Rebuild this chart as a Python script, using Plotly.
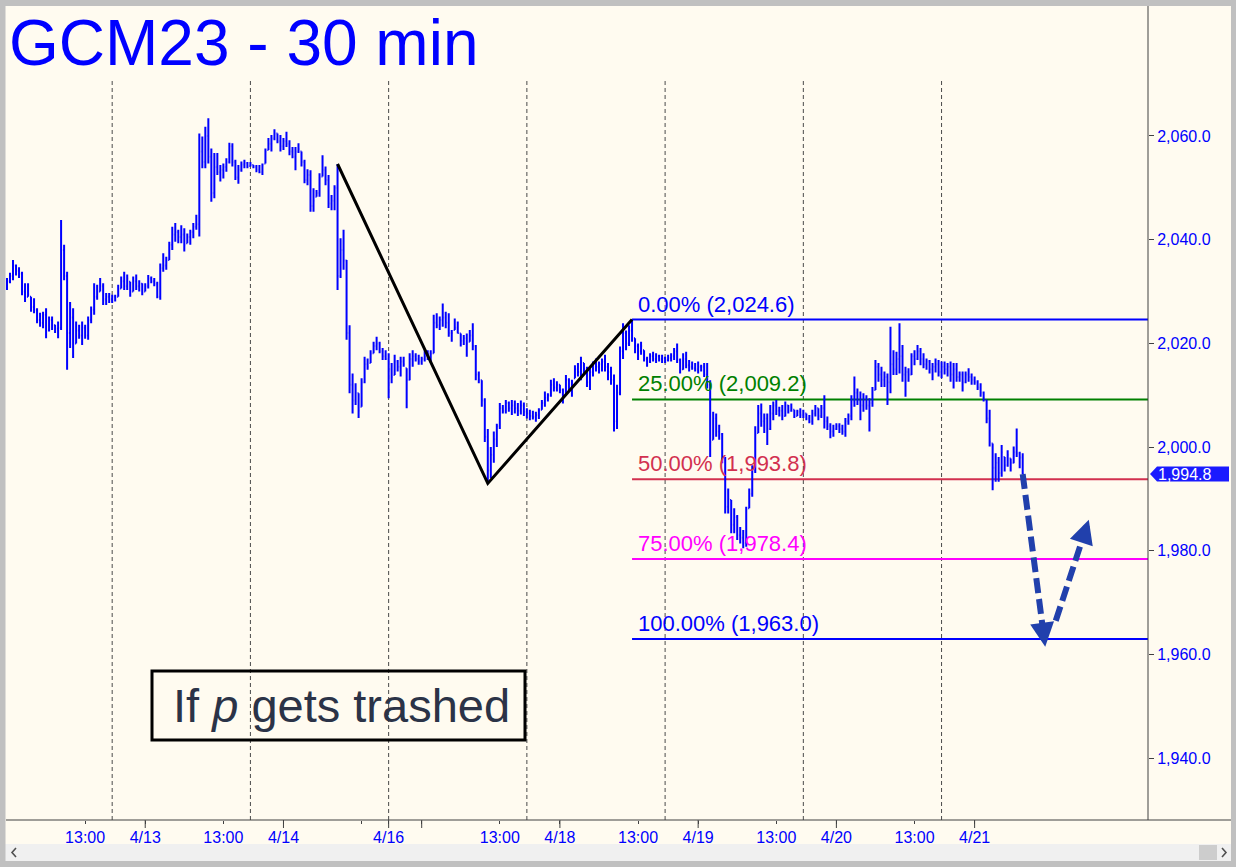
import math
import plotly.graph_objects as go

# ---------------- data (30-min bars, index = bar number) ----------------
highs = [
    2032.6, 2033.6, 2036.1, 2035.2, 2034.7, 2033.8, 2031.6, 2031.6, 2029.0, 2028.7,
    2026.8, 2025.9, 2026.1, 2026.8, 2025.2, 2025.2, 2023.6, 2024.2, 2043.8, 2039.0,
    2033.8, 2028.0, 2026.8, 2024.2, 2023.6, 2024.2, 2023.6, 2025.2, 2027.1, 2031.6,
    2031.3, 2032.6, 2031.6, 2029.7, 2029.7, 2029.4, 2029.4, 2031.3, 2032.9, 2033.8,
    2033.3, 2031.9, 2032.9, 2033.3, 2032.2, 2031.6, 2031.6, 2033.2, 2032.9, 2032.6,
    2031.9, 2035.4, 2037.4, 2036.7, 2039.6, 2042.5, 2043.2, 2041.9, 2042.8, 2042.2,
    2041.2, 2041.9, 2043.2, 2044.8, 2060.5, 2059.9, 2061.8, 2063.4, 2057.6, 2056.7,
    2056.7, 2054.4, 2054.7, 2055.7, 2058.7, 2058.6, 2055.4, 2054.4, 2055.1, 2055.4,
    2055.0, 2055.0, 2054.4, 2054.4, 2054.4, 2054.7, 2057.6, 2059.6, 2060.2, 2061.3,
    2060.5, 2060.2, 2059.6, 2060.8, 2059.2, 2057.9, 2057.9, 2058.6, 2057.0, 2055.4,
    2053.6, 2053.4, 2049.9, 2049.6, 2052.8, 2056.3, 2054.1, 2052.5, 2048.6, 2050.5,
    2054.6, 2040.3, 2041.9, 2036.1, 2023.5, 2014.2, 2012.3, 2010.4, 2013.3, 2017.4,
    2017.1, 2018.7, 2020.3, 2021.3, 2020.3, 2019.1, 2018.7, 2018.1, 2016.2, 2017.8,
    2016.8, 2017.4, 2017.4, 2015.2, 2018.1, 2018.7, 2018.1, 2017.8, 2017.4, 2018.7,
    2018.7, 2018.7, 2025.5, 2025.8, 2025.2, 2027.7, 2026.1, 2025.8, 2022.6, 2024.8,
    2024.2, 2021.9, 2021.6, 2021.9, 2022.6, 2023.9, 2019.7, 2014.6, 2012.9, 2009.4,
    2003.5, 2000.0, 2003.0, 2004.5, 2008.5, 2008.1, 2009.1, 2008.8, 2009.1, 2009.0,
    2008.5, 2009.0, 2008.6, 2007.5, 2007.2, 2007.0, 2006.8, 2007.5, 2009.1, 2010.7,
    2010.4, 2013.0, 2013.3, 2012.7, 2012.0, 2011.3, 2013.9, 2013.3, 2013.0, 2015.8,
    2016.2, 2017.4, 2016.2, 2015.5, 2015.2, 2016.5, 2017.1, 2016.5, 2017.1, 2017.8,
    2016.2, 2015.5, 2014.0, 2012.0, 2019.4, 2023.9, 2022.5, 2023.5, 2024.6, 2021.0,
    2020.0, 2020.3, 2018.7, 2017.4, 2018.1, 2018.4, 2018.1, 2017.8, 2017.8, 2017.4,
    2017.8, 2018.1, 2019.1, 2020.0, 2017.1, 2018.1, 2018.4, 2016.8, 2016.5, 2016.2,
    2016.5, 2015.9, 2016.2, 2016.2, 2012.9, 2006.8, 2006.5, 2004.3, 2002.7, 1998.1,
    1992.0, 1989.8, 1988.2, 1986.9, 1984.6, 1984.0, 1988.5, 1992.0, 1996.5, 2004.0,
    2008.1, 2008.4, 2006.5, 2006.5, 2008.1, 2008.8, 2009.1, 2007.8, 2008.1, 2008.8,
    2008.1, 2008.4, 2007.2, 2007.2, 2007.5, 2007.2, 2006.5, 2006.2, 2007.2, 2008.1,
    2007.5, 2008.1, 2010.0, 2005.9, 2004.6, 2004.3, 2004.6, 2004.6, 2004.3, 2005.6,
    2006.5, 2010.0, 2013.6, 2011.3, 2010.7, 2010.4, 2010.0, 2009.4, 2011.6, 2016.8,
    2016.2, 2015.5, 2014.6, 2014.2, 2023.2, 2018.7, 2018.4, 2023.9, 2019.7, 2015.5,
    2015.2, 2018.1, 2018.7, 2019.7, 2019.1, 2018.1, 2017.1, 2016.8, 2016.2, 2017.1,
    2016.8, 2016.5, 2016.5, 2016.2, 2016.5, 2016.2, 2016.2, 2014.6, 2014.6, 2014.6,
    2015.2, 2014.2, 2013.6, 2012.9, 2012.3, 2010.7, 2009.1, 2007.2, 2000.7, 1998.8,
    1998.1, 2000.4, 1998.1, 1999.4, 1997.8, 2000.1, 2003.6, 1999.1, 1998.8,
]
lows = [
    2030.3, 2031.6, 2032.2, 2033.1, 2032.6, 2029.3, 2028.0, 2029.0, 2026.1, 2025.8,
    2023.9, 2023.2, 2022.9, 2021.0, 2022.3, 2022.6, 2022.0, 2021.0, 2022.6, 2032.2,
    2014.9, 2019.1, 2017.2, 2020.0, 2020.9, 2019.7, 2020.9, 2020.7, 2023.9, 2025.5,
    2028.4, 2030.0, 2027.4, 2027.4, 2027.8, 2027.8, 2028.1, 2029.0, 2030.6, 2030.3,
    2030.3, 2029.0, 2030.0, 2030.3, 2030.0, 2029.3, 2030.0, 2030.6, 2031.6, 2031.0,
    2028.7, 2028.4, 2033.8, 2034.2, 2036.1, 2038.0, 2039.6, 2039.3, 2039.3, 2037.7,
    2039.3, 2039.0, 2040.3, 2041.9, 2040.6, 2053.8, 2053.8, 2054.7, 2047.3, 2048.0,
    2052.5, 2051.2, 2051.8, 2053.1, 2054.7, 2054.1, 2051.5, 2050.8, 2053.1, 2053.8,
    2053.8, 2054.1, 2053.8, 2053.0, 2052.8, 2052.5, 2054.7, 2057.3, 2057.0, 2059.2,
    2058.6, 2057.0, 2057.3, 2057.9, 2056.3, 2055.7, 2053.4, 2056.7, 2054.1, 2050.9,
    2050.5, 2045.4, 2045.4, 2048.3, 2048.3, 2052.2, 2050.5, 2046.1, 2045.7, 2045.7,
    2030.3, 2032.6, 2034.2, 2020.7, 2010.4, 2006.5, 2008.1, 2005.6, 2007.8, 2012.3,
    2014.9, 2016.2, 2018.1, 2018.7, 2018.1, 2016.8, 2016.8, 2009.4, 2012.3, 2013.9,
    2014.6, 2013.6, 2015.5, 2007.5, 2012.9, 2015.5, 2016.5, 2015.9, 2015.9, 2016.5,
    2016.8, 2016.2, 2018.1, 2022.9, 2022.6, 2023.2, 2022.9, 2021.3, 2020.3, 2022.6,
    2021.9, 2019.4, 2019.7, 2017.4, 2020.3, 2018.7, 2012.9, 2012.3, 2007.8, 2001.0,
    1993.0, 1994.0, 1997.0, 2000.0, 2003.5, 2006.5, 2006.5, 2006.8, 2006.2, 2006.5,
    2006.0, 2006.3, 2006.0, 2005.5, 2005.2, 2005.3, 2004.9, 2005.4, 2007.2, 2007.8,
    2008.8, 2009.7, 2010.7, 2010.7, 2010.4, 2008.4, 2010.0, 2010.7, 2009.7, 2013.3,
    2013.6, 2012.9, 2014.0, 2011.6, 2011.0, 2013.6, 2014.6, 2014.2, 2014.6, 2014.6,
    2012.9, 2012.0, 2003.0, 2003.5, 2010.0, 2017.0, 2018.7, 2019.5, 2020.3, 2018.1,
    2016.8, 2017.8, 2016.5, 2015.5, 2016.2, 2016.5, 2016.2, 2016.5, 2016.2, 2016.2,
    2016.5, 2016.5, 2016.8, 2016.2, 2014.2, 2014.9, 2015.2, 2014.6, 2014.9, 2014.6,
    2014.2, 2014.6, 2013.5, 2011.3, 1998.1, 2001.4, 2002.0, 2001.4, 1996.9, 1987.2,
    1987.2, 1983.4, 1983.4, 1982.1, 1981.4, 1980.5, 1980.8, 1988.2, 1990.4, 1995.0,
    2002.7, 2003.9, 2002.7, 2000.4, 2003.3, 2005.2, 2006.2, 2005.9, 2005.2, 2005.9,
    2006.5, 2006.8, 2005.6, 2006.0, 2005.6, 2005.6, 2005.2, 2004.6, 2004.3, 2005.9,
    2005.2, 2005.6, 2003.6, 2003.3, 2001.7, 2002.0, 2003.3, 2002.7, 2002.4, 2002.0,
    2004.3, 2005.2, 2007.8, 2008.1, 2005.2, 2006.8, 2007.2, 2003.0, 2007.8, 2011.0,
    2012.6, 2011.6, 2011.6, 2008.1, 2010.4, 2013.9, 2013.9, 2014.2, 2012.6, 2009.7,
    2012.6, 2013.9, 2015.8, 2016.8, 2015.8, 2015.2, 2014.9, 2014.2, 2012.9, 2014.4,
    2013.6, 2013.3, 2014.0, 2013.6, 2012.6, 2011.3, 2012.6, 2012.6, 2010.7, 2012.3,
    2012.6, 2012.0, 2012.0, 2011.0, 2009.7, 2008.8, 2004.6, 2000.1, 1991.7, 1993.3,
    1993.3, 1994.3, 1995.3, 1996.2, 1995.3, 1996.9, 1998.1, 1995.9, 1994.8,
]
closes = [
    2032.0, 2033.0, 2035.0, 2034.0, 2033.5, 2030.0, 2029.0, 2029.5, 2027.0, 2026.5,
    2024.5, 2024.0, 2025.5, 2022.5, 2024.5, 2023.5, 2022.8, 2023.0, 2038.0, 2033.0,
    2022.0, 2025.0, 2020.0, 2022.5, 2021.5, 2023.0, 2021.5, 2024.5, 2026.5, 2029.0,
    2030.0, 2031.0, 2028.5, 2029.0, 2028.5, 2029.0, 2029.0, 2030.5, 2032.0, 2031.0,
    2032.5, 2030.0, 2032.0, 2031.0, 2031.5, 2029.8, 2031.0, 2032.5, 2032.0, 2031.5,
    2029.0, 2034.5, 2035.0, 2036.0, 2039.0, 2041.0, 2041.5, 2040.5, 2041.0, 2039.0,
    2040.5, 2041.5, 2042.5, 2043.0, 2057.0, 2055.0, 2060.0, 2056.0, 2049.0, 2054.0,
    2053.0, 2053.5, 2054.0, 2055.0, 2058.0, 2055.0, 2052.0, 2053.5, 2054.5, 2054.8,
    2054.2, 2054.5, 2054.0, 2053.5, 2053.0, 2054.5, 2057.0, 2058.5, 2059.5, 2060.5,
    2059.0, 2058.0, 2059.0, 2058.5, 2057.0, 2056.0, 2057.0, 2057.5, 2055.0, 2051.5,
    2052.5, 2046.5, 2047.5, 2049.0, 2052.0, 2053.5, 2051.5, 2047.0, 2047.5, 2050.0,
    2033.0, 2038.0, 2036.0, 2022.0, 2012.0, 2009.0, 2010.5, 2007.0, 2012.5, 2016.0,
    2015.5, 2018.0, 2019.5, 2020.0, 2018.5, 2017.5, 2017.0, 2015.0, 2013.5, 2016.5,
    2015.5, 2016.5, 2016.0, 2013.0, 2017.0, 2017.5, 2017.0, 2016.5, 2017.0, 2017.5,
    2018.0, 2018.0, 2024.0, 2023.5, 2024.5, 2025.0, 2024.0, 2022.0, 2022.0, 2023.0,
    2022.0, 2020.5, 2021.0, 2020.0, 2021.5, 2019.5, 2014.0, 2013.0, 2009.0, 2002.0,
    1995.5, 1998.5, 2001.5, 2004.0, 2007.5, 2007.0, 2008.5, 2007.5, 2008.0, 2007.5,
    2007.0, 2008.0, 2006.8, 2006.5, 2006.0, 2005.8, 2006.2, 2007.0, 2008.5, 2009.5,
    2010.0, 2012.0, 2011.5, 2012.0, 2011.0, 2010.0, 2013.0, 2011.5, 2012.5, 2015.0,
    2014.5, 2016.5, 2015.0, 2012.5, 2014.5, 2016.0, 2015.5, 2016.0, 2016.5, 2015.5,
    2014.5, 2013.0, 2005.0, 2010.5, 2018.5, 2022.0, 2020.0, 2022.5, 2021.0, 2019.5,
    2018.5, 2019.5, 2017.0, 2016.5, 2017.5, 2017.0, 2017.5, 2017.0, 2017.2, 2016.8,
    2017.2, 2017.5, 2018.5, 2016.8, 2015.0, 2017.0, 2015.8, 2015.5, 2015.2, 2015.0,
    2015.5, 2015.5, 2014.0, 2012.0, 2001.0, 2005.5, 2003.0, 2002.5, 1998.0, 1988.5,
    1990.0, 1985.0, 1986.5, 1983.0, 1982.5, 1981.5, 1988.0, 1991.0, 1995.5, 2002.5,
    2006.5, 2005.0, 2005.5, 2003.5, 2006.5, 2008.0, 2007.0, 2007.0, 2006.0, 2008.0,
    2007.0, 2007.5, 2006.0, 2006.8, 2006.2, 2006.5, 2005.5, 2005.0, 2006.5, 2007.5,
    2006.0, 2007.5, 2005.0, 2004.0, 2003.0, 2003.5, 2004.0, 2003.5, 2003.0, 2005.0,
    2006.0, 2009.0, 2010.5, 2009.0, 2008.0, 2009.5, 2008.0, 2008.5, 2011.0, 2015.5,
    2014.0, 2013.0, 2013.5, 2012.5, 2016.0, 2015.0, 2017.0, 2017.5, 2014.0, 2014.5,
    2014.0, 2017.5, 2017.0, 2018.5, 2017.0, 2016.0, 2016.5, 2015.0, 2015.5, 2016.0,
    2014.5, 2015.5, 2015.0, 2015.5, 2014.0, 2015.0, 2013.5, 2014.0, 2012.5, 2014.0,
    2013.5, 2013.0, 2012.5, 2011.5, 2010.5, 2009.5, 2005.5, 2001.0, 1996.0, 1997.0,
    1995.0, 1999.0, 1996.5, 1998.5, 1997.0, 1999.0, 1998.8, 1998.0, 1994.8,
]
first_open = 2031.0

# x-axis labels (bar index -> label); "" = unlabeled tick
tick_idx = [26, 46, 72, 92, 118, 127, 138, 164, 184, 210, 230, 256, 276, 302, 322]
tick_text = ["13:00", "4/13", "13:00", "4/14", "", "4/16", "", "13:00", "4/18",
             "13:00", "4/19", "13:00", "4/20", "13:00", "4/21"]
long_tick_idx = [46, 92, 127, 138, 184, 230, 276, 322]
session_sep_idx = [35, 81, 127, 173, 219, 265, 311]

y_tick_vals = [1940, 1960, 1980, 2000, 2020, 2040, 2060]

# ABC swing pivots (bar index) and fib percentages
pivot_idx = [110, 160, 208]
fib_pcts = [0.0, 25.0, 50.0, 75.0, 100.0]
fib_colors = ["#0000ff", "#008000", "#d2304f", "#ff00ff", "#0000ff"]

# projected path (dashed arrows)
proj1_idx, proj1_px = [338, 345.5], [1994.8, 1961.5]
proj2_idx, proj2_px = [349, 360], [1966.5, 1986.0]

last_price = closes[-1]

# ---------------- layout geometry ----------------
W, H = 1236, 867
LM, RM, TM, BM = 6, 88, 6, 47
PW, PH = W - LM - RM, H - TM - BM
XMIN, XMAX = -0.333, 379.7
YMIN, YMAX = 1928.08, 2085.07
SX = PW / (XMAX - XMIN)
SY = PH / (YMAX - YMIN)
BG = "#fffbf0"
BLUE = "#0000ff"
FONT = "Liberation Sans, Arial, sans-serif"


def pxx(p):
    return (p - LM) / PW


def pxy(p):
    return (H - BM - p) / PH


n = len(closes)
idx = list(range(n))
opens = [first_open] + [min(max(closes[i - 1], lows[i]), highs[i]) for i in range(1, n)]

fig = go.Figure()

fig.add_trace(go.Ohlc(
    x=idx, open=opens, high=highs, low=lows, close=closes,
    increasing=dict(line=dict(color=BLUE, width=2)),
    decreasing=dict(line=dict(color=BLUE, width=2)),
    tickwidth=0.35, hoverinfo="skip", showlegend=False,
))

# ABC zigzag
A = highs[pivot_idx[0]]
B = lows[pivot_idx[1]]
C = highs[pivot_idx[2]]
fig.add_trace(go.Scatter(
    x=pivot_idx, y=[A, B, C], mode="lines",
    line=dict(color="black", width=3), hoverinfo="skip", showlegend=False,
))

shapes = []
annotations = []

# session separators
for s in session_sep_idx:
    shapes.append(dict(type="line", xref="x", yref="paper", x0=s, x1=s,
                       y0=0, y1=pxy(78), layer="below",
                       line=dict(color="#4a4a4a", width=1, dash="4px,3px")))

# fib levels
rng = A - B
for pct, col in zip(fib_pcts, fib_colors):
    lvl = C - pct / 100.0 * rng
    shapes.append(dict(type="line", xref="x", yref="y", x0=pivot_idx[2], x1=XMAX,
                       y0=lvl, y1=lvl, layer="below", line=dict(color=col, width=2)))
    annotations.append(dict(x=pivot_idx[2] + 1.3, y=lvl, xref="x", yref="y",
                            xanchor="left", yanchor="bottom", yshift=1,
                            text=f"{pct:.2f}% ({lvl:,.1f})", showarrow=False,
                            font=dict(family=FONT, size=22, color=col)))

# projected path (dashed)
ARW = "rgb(33,64,172)"
for xs, ys in [(proj1_idx, proj1_px), (proj2_idx, proj2_px)]:
    dxp = (xs[1] - xs[0]) * SX
    dyp = -(ys[1] - ys[0]) * SY
    L = math.hypot(dxp, dyp)
    ux, uy = dxp / L, dyp / L
    cut = 16 / L
    fig.add_trace(go.Scatter(
        x=[xs[0], xs[1] - (xs[1] - xs[0]) * cut],
        y=[ys[0], ys[1] - (ys[1] - ys[0]) * cut],
        mode="lines", line=dict(color=ARW, width=6, dash="15px,6px"),
        hoverinfo="skip", showlegend=False))
    annotations.append(dict(x=xs[1], y=ys[1], xref="x", yref="y",
                            ax=-ux * 22, ay=-uy * 22, text="", showarrow=True,
                            arrowhead=2, arrowsize=0.8, arrowwidth=6,
                            arrowcolor=ARW, standoff=0))

# text box
shapes.append(dict(type="rect", xref="paper", yref="paper",
                   x0=pxx(152), x1=pxx(525), y0=pxy(740), y1=pxy(671),
                   line=dict(color="black", width=3), fillcolor="rgba(0,0,0,0)"))
annotations.append(dict(x=pxx(341.5), y=pxy(705), xref="paper", yref="paper",
                        xanchor="center", yanchor="middle", showarrow=False,
                        text="If <i>p</i> gets trashed",
                        font=dict(family=FONT, size=47, color="#2b3347")))

# title
annotations.append(dict(x=pxx(7), y=pxy(5), xref="paper", yref="paper",
                        xanchor="left", yanchor="top", showarrow=False,
                        text="GCM23 - 30 min",
                        font=dict(family=FONT, size=64, color=BLUE)))

# axis lines
shapes.append(dict(type="line", xref="paper", yref="paper", x0=0, x1=pxx(1231),
                   y0=0, y1=0, line=dict(color="#404040", width=1)))
shapes.append(dict(type="line", xref="paper", yref="paper", x0=1, x1=1,
                   y0=0, y1=1, line=dict(color="#404040", width=1)))
for t in long_tick_idx:
    shapes.append(dict(type="line", xref="x", yref="paper", x0=t, x1=t,
                       y0=0, y1=pxy(828), line=dict(color="#404040", width=1)))

# last price marker
hp = 7.5 / SY
shapes.append(dict(type="path", xref="paper", yref="y",
                   path=(f"M {pxx(1150)},{last_price} L {pxx(1157)},{last_price + hp} "
                         f"L {pxx(1229)},{last_price + hp} L {pxx(1229)},{last_price - hp} "
                         f"L {pxx(1157)},{last_price - hp} Z"),
                   fillcolor="#1a1aff", line=dict(width=0)))
annotations.append(dict(x=pxx(1156), y=last_price, xref="paper", yref="y",
                        xanchor="left", yanchor="middle", showarrow=False,
                        text=f"{last_price:,.1f}",
                        font=dict(family=FONT, size=16, color="white")))

# window chrome: scrollbar and gray frame
shapes.append(dict(type="rect", xref="paper", yref="paper", x0=pxx(5), x1=pxx(1231),
                   y0=pxy(861), y1=pxy(844), fillcolor="#f0f0f0", line=dict(width=0)))
shapes.append(dict(type="rect", xref="paper", yref="paper", x0=pxx(1199), x1=pxx(1217),
                   y0=pxy(860), y1=pxy(845), fillcolor="#cdcdcd", line=dict(width=0)))
# scroll chevrons
shapes.append(dict(type="path", xref="paper", yref="paper",
                   path=(f"M {pxx(16)},{pxy(848)} L {pxx(12)},{pxy(852.5)} "
                         f"L {pxx(16)},{pxy(857)}"),
                   line=dict(color="#505050", width=1.6)))
shapes.append(dict(type="path", xref="paper", yref="paper",
                   path=(f"M {pxx(1222)},{pxy(848)} L {pxx(1226)},{pxy(852.5)} "
                         f"L {pxx(1222)},{pxy(857)}"),
                   line=dict(color="#505050", width=1.6)))
GRAY = "#c0c0c0"
for (x0, x1, y0, y1) in [(0, 1236, 0, 6), (0, 5.5, 0, 867), (1231, 1236, 0, 867),
                         (0, 1236, 861, 867)]:
    shapes.append(dict(type="rect", xref="paper", yref="paper", x0=pxx(x0), x1=pxx(x1),
                       y0=pxy(y1), y1=pxy(y0), fillcolor=GRAY, line=dict(width=0)))

fig.update_layout(
    width=W, height=H,
    margin=dict(l=LM, r=RM, t=TM, b=BM, pad=0),
    paper_bgcolor=BG, plot_bgcolor=BG,
    showlegend=False, hovermode=False,
    shapes=shapes, annotations=annotations,
    xaxis=dict(range=[XMIN, XMAX], showgrid=False, zeroline=False, showline=False,
               rangeslider=dict(visible=False),
               tickmode="array", tickvals=tick_idx, ticktext=tick_text,
               ticks="outside", ticklen=3, tickcolor="#404040",
               tickfont=dict(family=FONT, size=16, color=BLUE)),
    yaxis=dict(range=[YMIN, YMAX], side="right", showgrid=False, zeroline=False,
               showline=False, tickmode="array", tickvals=y_tick_vals,
               ticktext=[f"{v:,.1f}" for v in y_tick_vals],
               ticks="outside", ticklen=5, tickcolor="#404040",
               tickfont=dict(family=FONT, size=16, color=BLUE)),
)

fig.write_html(
    "out.html",
    config={"displayModeBar": False, "staticPlot": True},
    post_script="document.body.style.margin='0';document.body.style.padding='0';"
                "document.body.style.overflow='hidden';",
)
